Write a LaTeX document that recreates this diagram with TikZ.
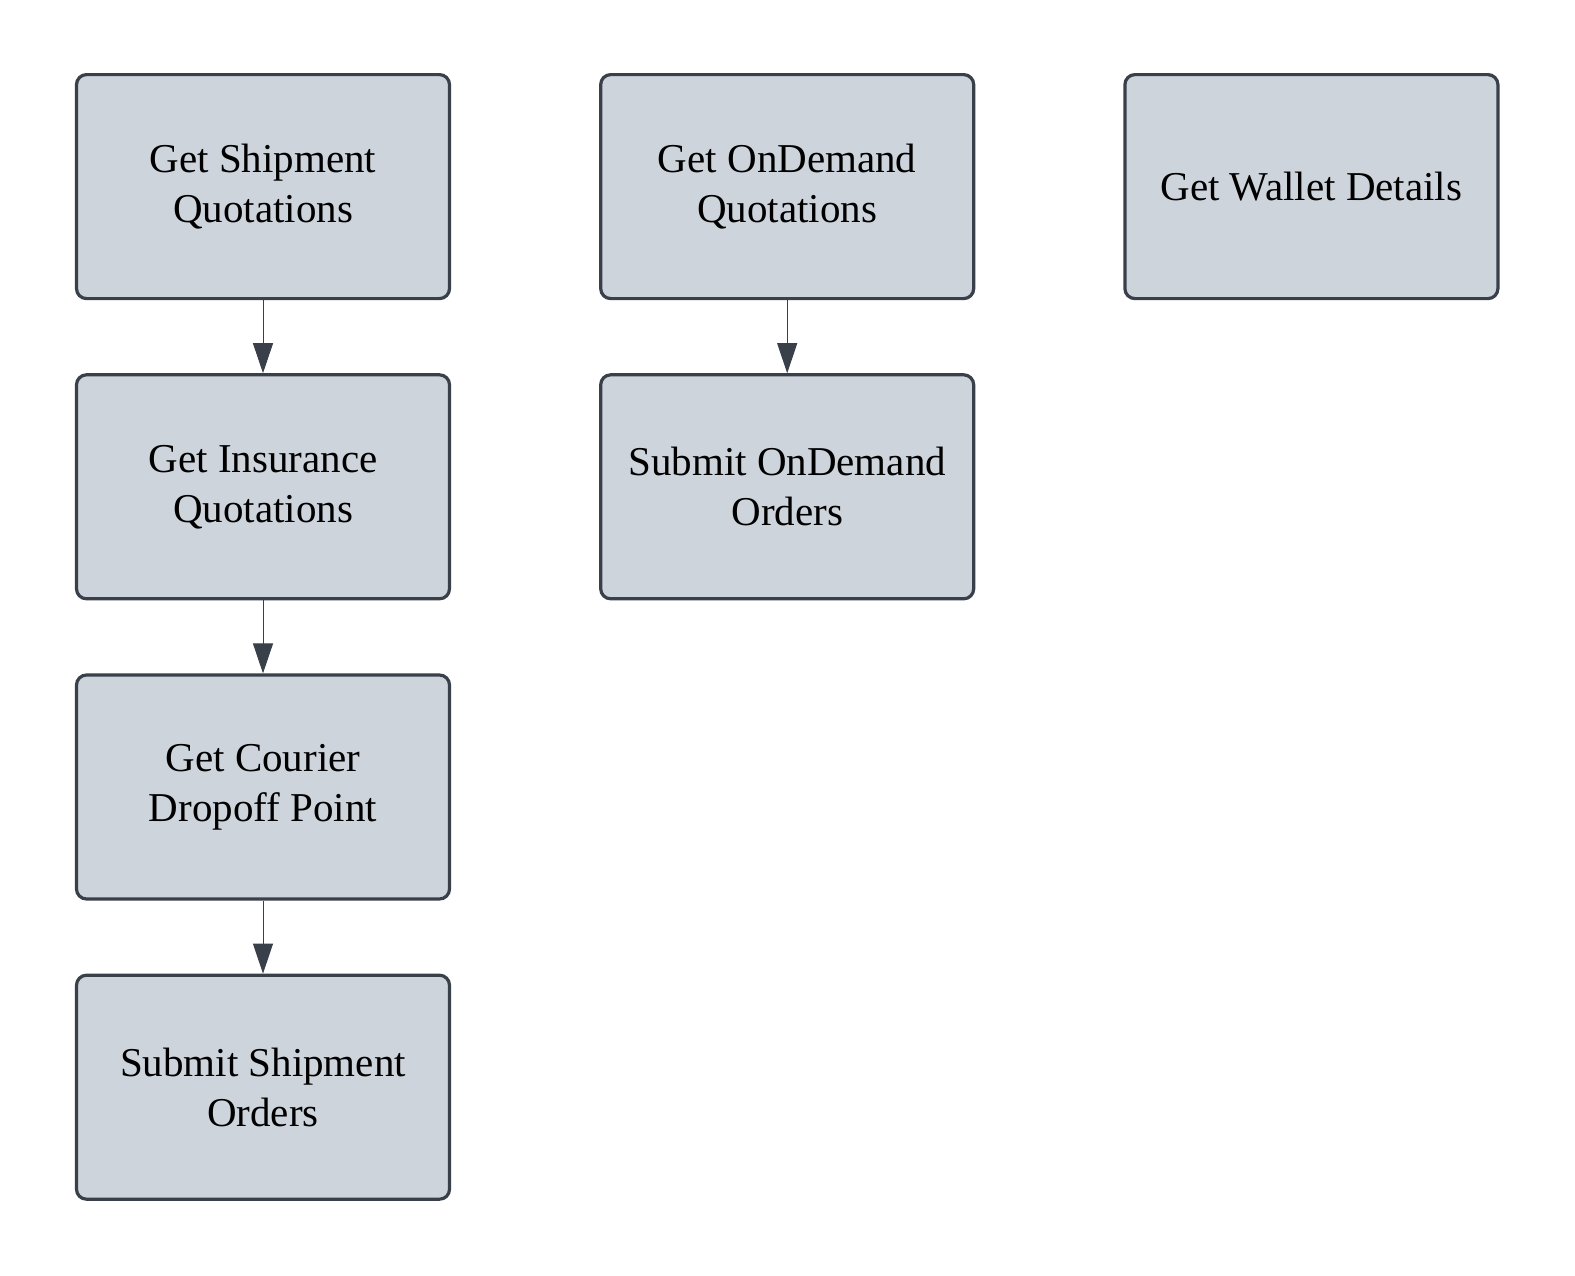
\documentclass[tikz,border=0pt]{standalone}
\usepackage{fontspec}
\setmainfont{Liberation Serif}
\usetikzlibrary{positioning,arrows.meta}
\definecolor{boxfill}{RGB}{206,212,220}
\definecolor{boxline}{RGB}{58,64,74}

\begin{document}
\begin{tikzpicture}[x=1pt, y=1pt, >={Triangle[width=10pt,length=15pt]},
    task/.style={draw=boxline, fill=boxfill, line width=1.6pt, rounded corners=5pt,
      minimum width=186.5pt, minimum height=112pt, inner sep=0pt, align=center,
      font=\fontsize{20.5}{25}\selectfont},
    flow/.style={->, draw=boxline, line width=0.5pt},
    node distance=36.5pt and 74pt]
        \useasboundingbox (0,0) rectangle (787.5,-637.5);
        % Shipment column
        \node[task] (shipquote) at (131.5,-93.3) {Get Shipment\\Quotations};
        \node[task, below=of shipquote] (insquote) {Get Insurance\\Quotations};
        \node[task, below=of insquote] (courier) {Get Courier\\Dropoff Point};
        \node[task, below=of courier] (shipsubmit) {Submit Shipment\\Orders};
        % OnDemand column
        \node[task, right=of shipquote] (odquote) {Get OnDemand\\Quotations};
        \node[task, below=of odquote] (odsubmit) {Submit OnDemand\\Orders};
        % Wallet
        \node[task, right=of odquote] (wallet) {Get Wallet Details};
        % Flow arrows
        \foreach \a/\b in {shipquote/insquote, insquote/courier, courier/shipsubmit, odquote/odsubmit}
            \draw[flow] (\a) -- (\b);
    \end{tikzpicture}
\end{document}
